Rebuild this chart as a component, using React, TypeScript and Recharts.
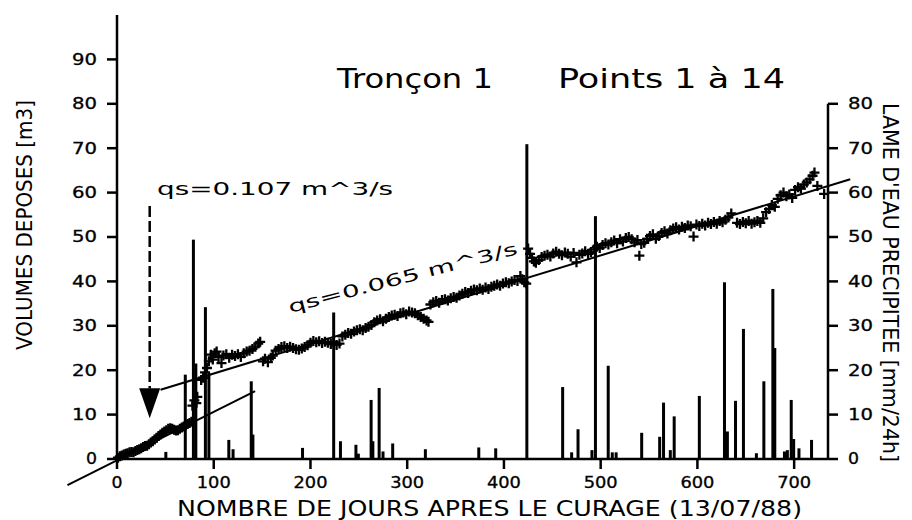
import React from 'react';
import { ComposedChart, XAxis, YAxis, Scatter, Bar, ReferenceLine, ReferenceDot } from 'recharts';

const FONT = 'DejaVu Sans';

// ---- axes ----
const dayTicks = [0, 100, 200, 300, 400, 500, 600, 700];
const volumeTicks = [0, 10, 20, 30, 40, 50, 60, 70, 80, 90];
const rainTicks = [0, 10, 20, 30, 40, 50, 60, 70, 80];
const dayDomain = [0, 735];
const valueDomain = [0, 100];

// ---- deposited volumes [day, m3] ----
const volumes: [number, number][] = [
  [1, 0.3], [3, 0.6], [5, 0.8], [7, 1.0], [9, 1.2], [11, 1.3], [13, 1.5], [15, 1.6], [17, 1.5], [19, 1.8],
  [21, 2.0], [23, 2.2], [25, 2.4], [27, 2.7], [29, 2.9], [31, 3.0], [33, 3.3], [35, 3.7], [37, 4.0], [39, 4.4],
  [41, 4.8], [43, 5.2], [45, 5.5], [47, 5.9], [49, 6.2], [51, 6.5], [53, 6.8], [55, 6.9], [57, 6.8], [59, 6.6],
  [61, 6.4], [63, 6.5], [65, 6.8], [67, 7.1], [69, 7.3], [71, 7.6], [73, 7.9], [75, 8.1], [77, 8.4],
  [78, 12.0], [80, 13.2], [82, 12.6], [83, 14.0], [87, 17.8], [89, 18.3], [91, 19.5], [93, 20.5], [95, 22.0], [97, 23.5], [99, 22.4],
  [101, 23.8], [103, 24.2], [105, 23.0], [108, 21.6], [110, 23.3], [113, 23.6], [116, 22.8], [119, 23.5], [122, 23.2], [125, 23.6],
  [128, 23.0], [131, 23.8], [134, 24.2], [137, 24.4], [140, 24.8], [143, 25.3], [146, 26.0], [148, 26.4], [151, 22.0], [153, 22.6],
  [156, 21.8], [159, 22.8], [161, 23.3],
  [164, 24.4], [167, 24.8], [170, 25.2], [173, 25.4], [176, 25.0], [179, 25.3], [182, 25.0], [185, 24.7], [188, 24.6], [191, 24.9],
  [194, 25.2], [197, 25.6], [200, 26.2], [203, 26.6], [206, 26.3], [209, 26.5], [212, 26.1], [215, 26.4], [218, 26.2], [221, 25.9],
  [224, 26.3], [227, 25.7], [230, 26.0],
  [233, 27.6], [236, 28.0], [239, 28.4], [242, 28.2], [245, 28.7], [248, 29.0], [251, 29.2], [254, 29.0], [257, 29.5], [260, 29.8],
  [263, 30.2], [266, 30.8], [269, 31.2], [272, 31.5], [275, 31.0], [278, 31.6], [281, 32.0], [284, 32.3], [287, 32.5], [290, 32.2],
  [293, 32.8], [296, 33.0], [299, 32.6], [302, 33.2], [305, 33.0], [308, 32.8], [311, 32.4], [314, 32.0], [317, 31.6], [320, 31.2], [322, 30.9],
  [324, 34.8], [327, 35.3], [330, 35.6], [333, 35.2], [336, 35.8], [339, 36.0], [342, 35.7], [345, 36.2], [348, 36.5], [351, 36.3],
  [354, 36.8], [357, 37.2], [360, 37.6], [363, 37.4], [366, 37.9], [369, 38.2], [372, 38.0], [375, 38.4], [378, 38.1], [381, 38.6],
  [384, 38.3], [387, 38.8], [390, 39.0], [393, 39.3], [396, 39.0], [399, 39.5], [402, 39.8], [405, 39.6], [408, 40.0], [411, 40.3],
  [414, 40.1], [417, 41.2], [419, 40.5], [421, 39.8], [423, 39.5],
  [425, 47.4], [427, 46.2], [429, 45.3], [431, 44.5], [433, 44.2], [436, 44.8], [439, 45.5], [442, 45.8], [445, 46.0], [448, 45.6],
  [451, 46.3], [454, 46.7], [457, 46.2], [460, 45.9], [463, 46.5], [466, 46.2], [469, 45.6], [472, 46.4], [475, 44.3], [478, 46.0],
  [481, 46.3], [484, 46.8], [487, 46.2], [490, 46.6], [493, 47.2], [496, 47.8], [499, 47.5], [502, 48.2], [505, 48.6], [508, 48.3],
  [511, 48.8], [514, 49.2], [517, 48.6], [520, 49.5], [523, 49.0], [526, 49.8], [529, 50.0], [532, 49.5], [535, 48.8], [538, 49.3],
  [540, 45.8], [542, 48.4],
  [545, 48.7], [548, 49.6], [551, 50.2], [554, 50.6], [557, 49.6], [560, 50.2], [563, 50.9], [566, 51.3], [569, 50.8], [572, 51.5],
  [575, 51.9], [578, 52.2], [581, 51.7], [584, 52.3], [587, 52.0], [590, 52.6], [593, 52.4], [596, 50.1], [599, 52.8], [602, 52.5],
  [605, 53.0], [608, 52.6], [611, 53.2], [614, 52.9], [617, 53.4], [620, 53.0], [623, 53.6], [626, 53.3], [629, 53.9], [632, 54.4], [635, 55.3],
  [641, 53.2], [644, 52.9], [647, 53.4], [650, 53.1], [653, 53.6], [656, 53.0], [659, 53.3], [662, 53.6], [665, 53.2], [668, 54.2],
  [671, 55.6], [674, 56.3], [677, 57.2], [680, 56.8], [683, 58.6], [686, 59.4], [689, 60.0], [692, 59.2], [695, 59.6], [698, 58.8],
  [701, 60.6], [704, 61.2], [707, 60.9], [710, 61.8], [713, 62.3], [716, 63.0], [719, 63.8], [721, 64.5], [724, 61.5], [731, 59.7],
];

// ---- daily rainfall [day, mm/24h] ----
const rainfall: [number, number][] = [
  [50.5, 1.6], [70.6, 19], [79, 49.4], [81.5, 21.5], [91.4, 34.2], [95, 19.4], [115.6, 4.3], [120, 2.2], [138.8, 17.5], [140.5, 5.5],
  [191.8, 2.5], [224, 33], [231, 4], [247, 3.2], [249.5, 1.2], [262.7, 13.3], [264.5, 4], [271, 16], [275, 1.7], [285, 3.5],
  [318.8, 2.2], [374, 2.6], [391.5, 2.4], [423.7, 70.9], [460.7, 16.2], [470, 1.5], [476.6, 6.7], [491, 2], [494.6, 54.7],
  [507.8, 21], [512, 1.5], [516, 1.5], [542.4, 5.9], [561, 5], [565, 12.7], [572, 2], [576, 9.6], [602, 14.2], [628, 39.8],
  [631, 6.2], [639.4, 13.1], [647.6, 29.3], [661, 1.3], [668.7, 17.5], [678, 38.3], [680, 25], [690, 1.7], [693, 2],
  [697, 13.3], [699.5, 4.5], [705, 2.4], [718, 4.3],
];

// ---- fitted trends [day, m3] ----
const fit107: [number, number][] = [[-51.2, -5.9], [142.8, 15.3]];
const fit065: [number, number][] = [[45, 15.6], [758, 63]];
// arrow marking the change of regime: day, top of dashed shaft, base of head, tip
const arrowDay = 33.8;
const arrowTop = 57;
const arrowBase = 15.9;
const arrowTip = 9.2;

const rainData = rainfall.map(([day, rain]) => ({ day, rain }));
const volumeData = volumes.map(([day, vol]) => ({ day, vol }));

const TICK_LEN: Record<number, number> = { 1: 11, 2: 25, 3: 34 };

const makeTick = (anchor: 'start' | 'middle' | 'end', dy: string) => (props: any) => {
  const { x, y, payload } = props;
  const label = String(payload.value);
  return (
    <text
      x={x}
      y={y}
      dy={dy}
      textAnchor={anchor}
      fontFamily={FONT}
      fontSize={15}
      fill="#000"
      stroke="#000"
      strokeWidth={0.3}
      textLength={TICK_LEN[label.length]}
      lengthAdjust="spacingAndGlyphs"
    >
      {label}
    </text>
  );
};

const Cross = (props: any) => {
  const { cx, cy } = props;
  if (cx == null || cy == null) return null;
  return (
    <path
      d={`M${cx - 5},${cy}H${cx + 5}M${cx},${cy - 5}V${cy + 5}`}
      stroke="#000"
      strokeWidth={2.3}
      fill="none"
    />
  );
};

const RainStick = (props: any) => {
  const { x, y, width, height } = props;
  if (x == null || y == null || !isFinite(height)) return null;
  const c = x + (width || 0) / 2;
  return <rect x={c - 1.5} y={y} width={3} height={Math.max(height, 0)} fill="#000" />;
};

const textAt = (text: string, len: number, size: number, rotate = 0) => (props: any) => {
  const { cx, cy } = props;
  return (
    <text
      x={cx}
      y={cy}
      fontFamily={FONT}
      fontSize={size}
      fill="#000"
      textLength={len}
      lengthAdjust="spacingAndGlyphs"
      transform={rotate ? `rotate(${rotate} ${cx} ${cy})` : undefined}
    >
      {text}
    </text>
  );
};

const ArrowHead = (props: any) => {
  const { cx, cy } = props;
  return <path d={`M${cx},${cy} L${cx - 10.5},${cy - 30} L${cx + 10.5},${cy - 30} Z`} fill="#000" />;
};

const XTitle = () => (
  <text x={489.5} y={516} textAnchor="middle" fontFamily={FONT} fontSize={22} fill="#000" textLength={625} lengthAdjust="spacingAndGlyphs">
    NOMBRE DE JOURS APRES LE CURAGE (13/07/88)
  </text>
);
const LeftTitle = () => (
  <text x={31.5} y={225} textAnchor="middle" fontFamily={FONT} fontSize={22} fill="#000" textLength={250} lengthAdjust="spacingAndGlyphs" transform="rotate(-90 31.5 225)">
    VOLUMES DEPOSES [m3]
  </text>
);
const RightTitle = () => (
  <text x={883} y={282.5} textAnchor="middle" fontFamily={FONT} fontSize={21} fill="#000" textLength={359} lengthAdjust="spacingAndGlyphs" transform="rotate(90 883 282.5)">
    LAME D'EAU PRECIPITEE [mm/24h]
  </text>
);

const axisStroke = { stroke: '#000', strokeWidth: 2.5 };

export default function App() {
  return (
    <div style={{ position: 'absolute', left: 0, top: 0, width: 912, height: 520, background: '#fff' }}>
      <ComposedChart width={912} height={520} data={rainData} margin={{ top: 15, right: 24, bottom: 31, left: 57 }}>
        <XAxis
          dataKey="day"
          type="number"
          domain={dayDomain}
          ticks={dayTicks}
          interval={0}
          height={30}
          tickSize={10}
          tickMargin={8}
          axisLine={axisStroke}
          tickLine={axisStroke}
          tick={makeTick('middle', '0.71em')}
          label={{ content: XTitle }}
        />
        <YAxis
          yAxisId="left"
          type="number"
          domain={valueDomain}
          ticks={volumeTicks}
          interval={0}
          width={60}
          tickSize={10}
          tickMargin={10}
          axisLine={axisStroke}
          tickLine={axisStroke}
          tick={makeTick('end', '0.355em')}
          label={{ content: LeftTitle }}
        />
        <YAxis
          yAxisId="right"
          orientation="right"
          type="number"
          domain={valueDomain}
          ticks={rainTicks}
          interval={0}
          width={60}
          tickSize={10}
          tickMargin={10}
          axisLine={false}
          tickLine={axisStroke}
          tick={makeTick('start', '0.355em')}
          label={{ content: RightTitle }}
        />
        <ReferenceLine
          yAxisId="right"
          segment={[{ x: dayDomain[1], y: 0 }, { x: dayDomain[1], y: rainTicks[rainTicks.length - 1] }]}
          stroke="#000"
          strokeWidth={2.5}
          ifOverflow="visible"
        />
        <Bar dataKey="rain" yAxisId="right" fill="#000" barSize={3} isAnimationActive={false} shape={RainStick} />
        <Scatter data={volumeData} dataKey="vol" yAxisId="left" shape={Cross} isAnimationActive={false} />
        <ReferenceLine
          yAxisId="left"
          segment={[{ x: fit107[0][0], y: fit107[0][1] }, { x: fit107[1][0], y: fit107[1][1] }]}
          stroke="#000"
          strokeWidth={2}
          ifOverflow="visible"
        />
        <ReferenceLine
          yAxisId="left"
          segment={[{ x: fit065[0][0], y: fit065[0][1] }, { x: fit065[1][0], y: fit065[1][1] }]}
          stroke="#000"
          strokeWidth={2}
          ifOverflow="visible"
        />
        <ReferenceLine
          yAxisId="left"
          segment={[{ x: arrowDay, y: arrowTop }, { x: arrowDay, y: arrowBase }]}
          stroke="#000"
          strokeWidth={2.5}
          strokeDasharray="11 4"
          ifOverflow="visible"
        />
        <ReferenceDot yAxisId="left" x={arrowDay} y={arrowTip} r={0} ifOverflow="visible" shape={ArrowHead} />
        <ReferenceDot yAxisId="left" x={227.4} y={83.6} r={0} ifOverflow="visible" shape={textAt('Tronçon 1', 156, 26)} />
        <ReferenceDot yAxisId="left" x={455.9} y={83.6} r={0} ifOverflow="visible" shape={textAt('Points 1 à 14', 227, 26)} />
        <ReferenceDot yAxisId="left" x={41.4} y={59.5} r={0} ifOverflow="visible" shape={textAt('qs=0.107 m^3/s', 236, 17)} />
        <ReferenceDot yAxisId="left" x={178.8} y={32.9} r={0} ifOverflow="visible" shape={textAt('qs=0.065 m^3/s', 236, 17, -14.5)} />
      </ComposedChart>
    </div>
  );
}
